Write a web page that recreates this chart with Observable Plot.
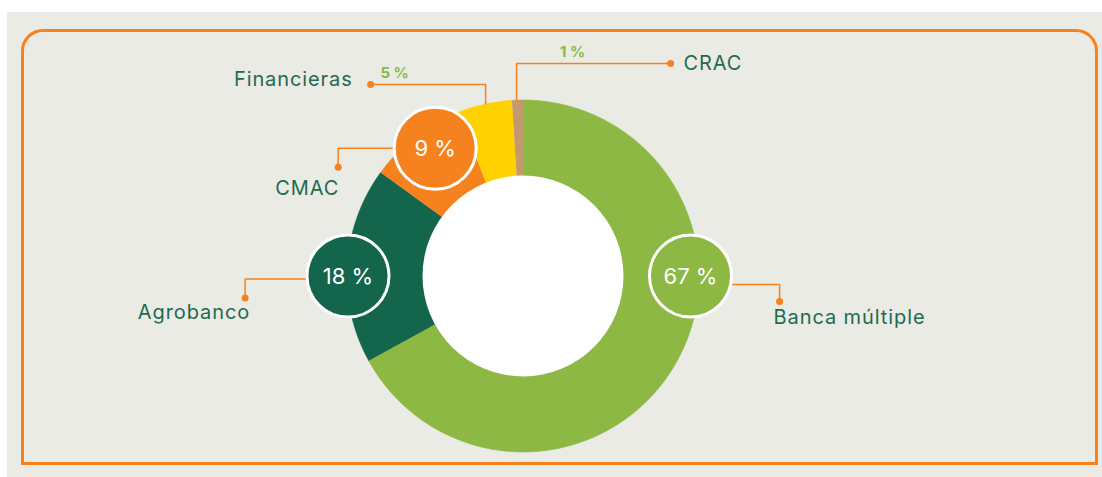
<!DOCTYPE html>
<html>
<head>
<meta charset="utf-8">
<script src="https://cdn.jsdelivr.net/npm/d3@7"></script>
<script src="https://cdn.jsdelivr.net/npm/@observablehq/plot@0.6"></script>
<style>
  html, body { margin: 0; padding: 0; background: #ffffff; }
  #wrap { position: relative; width: 1102px; height: 477px; overflow: hidden; }
  #panel { position: absolute; left: 7px; top: 12px; width: 1095px; height: 465px; background: #ebebe6; }
  #frame { position: absolute; left: 21px; top: 29px; width: 1071px; height: 430px;
           border: 3.5px solid #f5821f; border-radius: 22px 22px 0 0; }
  #chart { position: absolute; left: 0; top: 0; }
</style>
</head>
<body>
<div id="wrap">
  <div id="panel"></div>
  <div id="frame"></div>
  <div id="chart"></div>
</div>
<script>
// ---- data ----
const categories = ["Banca múltiple", "Agrobanco", "CMAC", "Financieras", "CRAC"];
const shares = [67, 18, 9, 5, 1];
const pctLabels = ["67 %", "18 %", "9 %", "5 %", "1 %"];
const colors = ["#8cb843", "#13654b", "#f5821f", "#ffd100", "#c39a6c"];

// ---- layout (styles / positions of callouts) ----
const outerR = 176, innerR = 100.5, bubbleR = 41;
const textColor = "#1f6a50";
const leadColor = "#f5821f";
// bubble callouts: angle (deg), distance from centre, side, exit y offset, run, drop, label dx, dy, anchor
const bubbleLayout = {
  "Banca múltiple": {angle: 90, dist: 167.5, side: 1, exitDy: 8.5, run: 49, drop: 17, ldx: -6, ldy: 16, anchor: "start"},
  "Agrobanco": {angle: 270, dist: 175, side: -1, exitDy: 3, run: 62, drop: 19, ldx: 5, ldy: 15, anchor: "end"},
  "CMAC": {angle: 325.5, dist: 155, side: -1, exitDy: 0, run: 56, drop: 19, ldx: -31, ldy: 21, anchor: "middle"}
};
// small slices: leader rises from the outer edge, then runs sideways
const edgeLayout = {
  "Financieras": {angle: 347.7, rise: 20, run: -115, ldx: -18, ldy: -5, anchor: "end", pdx: -91, pdy: -11},
  "CRAC": {angle: 357.9, rise: 37, run: 154, ldx: 13, ldy: 0, anchor: "start", pdx: 56, pdy: -11}
};

const polar = (deg, r) => {
  const a = deg * Math.PI / 180;
  return [r * Math.sin(a), -r * Math.cos(a)];
};

// donut ring polygons
const arcs = d3.pie().sort(null).value(d => d)(shares);
const ringPts = [];
arcs.forEach((a, i) => {
  const n = Math.max(4, Math.ceil((a.endAngle - a.startAngle) / (2 * Math.PI) * 360));
  const cat = categories[i];
  for (let k = 0; k <= n; k++) {
    const t = a.startAngle + (a.endAngle - a.startAngle) * k / n;
    ringPts.push({cat, x: outerR * Math.sin(t), y: -outerR * Math.cos(t)});
  }
  for (let k = n; k >= 0; k--) {
    const t = a.startAngle + (a.endAngle - a.startAngle) * k / n;
    ringPts.push({cat, x: (innerR - 2) * Math.sin(t), y: -(innerR - 2) * Math.cos(t)});
  }
});

// callouts
const bubbles = [], leaders = [], dots = [], names = [], smallPct = [];
categories.forEach((cat, i) => {
  if (bubbleLayout[cat]) {
    const L = bubbleLayout[cat];
    const [bx, by] = polar(L.angle, L.dist);
    bubbles.push({cat, x: bx, y: by, label: pctLabels[i]});
    const sx = bx + L.side * bubbleR * Math.cos(Math.asin(L.exitDy / bubbleR)), sy = by + L.exitDy;
    const ex = sx + L.side * L.run, ey = sy;
    const dx = ex, dy = ey + L.drop;
    leaders.push({cat, x: sx, y: sy}, {cat, x: ex, y: ey}, {cat, x: dx, y: dy});
    dots.push({x: dx, y: dy});
    names.push({x: dx + L.ldx, y: dy + L.ldy, text: cat, anchor: L.anchor});
  } else if (edgeLayout[cat]) {
    const L = edgeLayout[cat];
    const [sx, sy] = polar(L.angle, outerR - 0.5);
    const ex = sx, ey = sy - L.rise;
    const dx = ex + L.run, dy = ey;
    leaders.push({cat, x: sx, y: sy}, {cat, x: ex, y: ey}, {cat, x: dx, y: dy});
    dots.push({x: dx, y: dy});
    names.push({x: dx + L.ldx, y: dy + L.ldy, text: cat, anchor: L.anchor});
    smallPct.push({x: ex + L.pdx, y: ey + L.pdy, text: pctLabels[i]});
  }
});

const font = "Inter, 'Open Sans', sans-serif";

const chart = Plot.plot({
  width: 1102,
  height: 477,
  margin: 0,
  x: {domain: [-522.5, 579.5], range: [0, 1102], axis: null},
  y: {domain: [-275.5, 201.5], range: [0, 477], axis: null},
  color: {domain: categories, range: colors},
  style: {background: "transparent", overflow: "visible"},
  marks: [
    Plot.line(ringPts, {x: "x", y: "y", z: "cat", fill: "cat", stroke: "cat", strokeWidth: 0.6, curve: "linear"}),
    Plot.dot([{x: 0, y: 0}], {x: "x", y: "y", r: innerR, fill: "white", stroke: "none"}),
    Plot.line(leaders, {x: "x", y: "y", z: "cat", stroke: leadColor, strokeWidth: 1.5, strokeLinecap: "butt", strokeLinejoin: "miter"}),
    Plot.dot(dots, {x: "x", y: "y", r: 3.5, fill: leadColor, stroke: "none"}),
    Plot.dot(bubbles, {x: "x", y: "y", r: bubbleR, fill: "cat", stroke: "white", strokeWidth: 3}),
    Plot.text(bubbles, {x: "x", y: "y", text: "label", fill: "white", fontSize: 22, fontFamily: font, fontWeight: 400, lineAnchor: "middle", dy: 1}),
    Plot.text(names.filter(d => d.anchor === "start"), {x: "x", y: "y", text: "text", fill: textColor, fontSize: 20, fontFamily: font, textAnchor: "start", lineAnchor: "middle"}),
    Plot.text(names.filter(d => d.anchor === "end"), {x: "x", y: "y", text: "text", fill: textColor, fontSize: 20, fontFamily: font, textAnchor: "end", lineAnchor: "middle"}),
    Plot.text(names.filter(d => d.anchor === "middle"), {x: "x", y: "y", text: "text", fill: textColor, fontSize: 20, fontFamily: font, textAnchor: "middle", lineAnchor: "middle"}),
    Plot.text(smallPct, {x: "x", y: "y", text: "text", fill: "#8cb843", fontSize: 15, fontWeight: 700, fontFamily: font, lineAnchor: "middle"})
  ]
});
// wider tracking for the category names, as in the original typeface
d3.select(chart).selectAll("text")
  .filter(function () { return categories.includes(this.textContent); })
  .style("letter-spacing", "0.9px");
document.getElementById("chart").appendChild(chart);
</script>
</body>
</html>
